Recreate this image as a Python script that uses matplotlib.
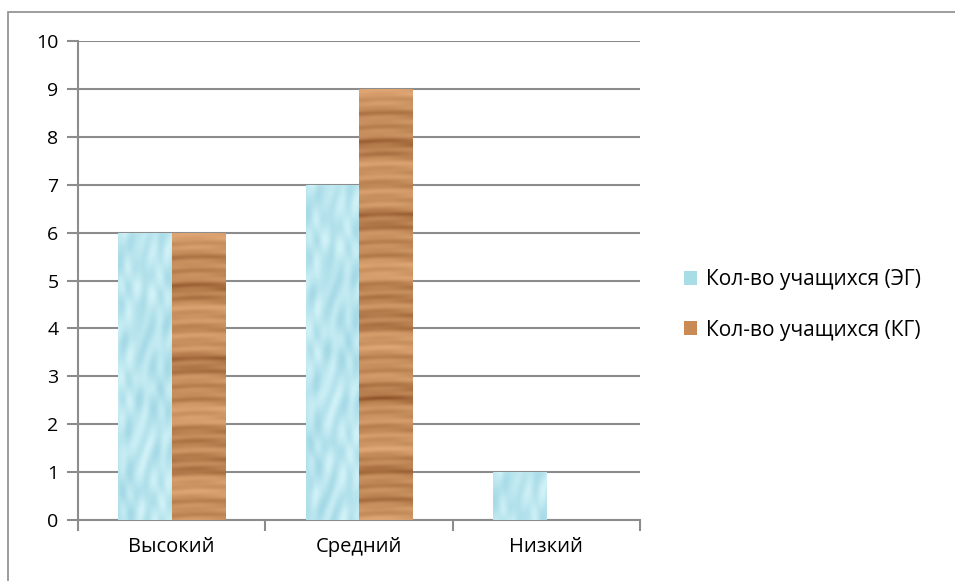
import matplotlib
matplotlib.use('Agg')

import numpy as np
import matplotlib.pyplot as plt
import matplotlib.patches as mpatches

categories = ['Высокий', 'Средний', 'Низкий']
eg_values = [6, 7, 1]
kg_values = [6, 9, 0]
series_labels = ['Кол-во учащихся (ЭГ)', 'Кол-во учащихся (КГ)']
y_ticks = list(range(0, 11))

plt.rcParams['font.family'] = ['Open Sans', 'DejaVu Sans']


def water_texture(h=200, w=60):
    # light blue with soft bubble shapes
    yy, xx = np.mgrid[0:h, 0:w].astype(float)
    f = (np.sin(xx / 4.3 + np.sin(yy / 7.0) * 1.7) * np.cos(yy / 5.1 + np.cos(xx / 6.0) * 1.3)
         + 0.5 * np.sin((xx + yy) / 3.1))
    f = (f - f.min()) / (f.max() - f.min())
    base = np.array([0.64, 0.85, 0.90])
    light = np.array([0.82, 0.95, 0.97])
    img = base[None, None, :] * (1 - f[..., None]) + light[None, None, :] * f[..., None]
    return img


def wood_texture(h=400, w=60):
    # light tan with thin, uneven dark grain lines
    yy, xx = np.mgrid[0:h, 0:w].astype(float)
    g = (np.sin(yy / 1.9 + np.sin(xx / 17.0) * 0.8) * 0.35
         + np.sin(yy / 4.7 + 0.6) * 0.3 + np.sin(yy / 11.3 + 1.0) * 0.35
         + np.sin(yy / 0.9 + xx / 29.0) * 0.12)
    g = (g - g.min()) / (g.max() - g.min())
    g = g ** 0.6
    dark = np.array([0.55, 0.32, 0.15])
    light = np.array([0.88, 0.66, 0.46])
    img = dark[None, None, :] * (1 - g[..., None]) + light[None, None, :] * g[..., None]
    return img


fig = plt.figure(figsize=(9.55, 5.81), dpi=100)
ax = fig.add_axes([78 / 955, 1 - 520 / 581, (640 - 78) / 955, (520 - 41) / 581])

# outer chart border (right and bottom edges fall outside the image)
fig.patches.append(mpatches.Rectangle((8 / 955, -0.1), 1.2, 1.1 - 12 / 581, transform=fig.transFigure,
                                      fill=False, edgecolor='#8c8c8c', linewidth=1.2))

x = np.arange(len(categories))
width = 0.285
textures = [water_texture(), wood_texture()]
series = [eg_values, kg_values]
colors = ['#a9dde6', '#c98a56']

for i, vals in enumerate(series):
    offs = (i - 0.5) * width
    bars = ax.bar(x + offs, vals, width, color='none', edgecolor='none', zorder=3)
    for b in bars:
        if b.get_height() <= 0:
            continue
        x0, y0 = b.get_x(), b.get_y()
        tex = textures[i][: max(20, int(textures[i].shape[0] * b.get_height() / 10))]
        im = ax.imshow(tex, extent=(x0, x0 + b.get_width(), y0, y0 + b.get_height()),
                       aspect='auto', zorder=3, interpolation='bilinear')
        im.set_clip_path(b)

ax.set_xlim(-0.5, len(categories) - 0.5)
ax.set_ylim(0, 10)
ax.set_yticks(y_ticks)
ax.set_xticks(x)
ax.set_xticklabels(categories)
ax.set_xticks(np.arange(len(categories) + 1) - 0.5, minor=True)

ax.grid(axis='y', color='#8c8c8c', linewidth=1.5, zorder=0)
ax.set_axisbelow(True)
for side in ['top', 'right']:
    ax.spines[side].set_visible(False)
for side in ['left', 'bottom']:
    ax.spines[side].set_color('#8c8c8c')
    ax.spines[side].set_linewidth(1.5)

ax.tick_params(axis='y', length=8, width=1.5, color='#8c8c8c', labelsize=14, pad=6)
ax.tick_params(axis='x', which='major', length=0, labelsize=14.5, pad=12)
ax.tick_params(axis='x', which='minor', length=8, width=1.5, color='#8c8c8c')

handles = [mpatches.Patch(facecolor=c, edgecolor='none', label=l) for c, l in zip(colors, series_labels)]
fig.legend(handles=handles, loc='center left', bbox_to_anchor=(665 / 955, 1 - 305 / 581),
           frameon=False, fontsize=15, handlelength=0.65, handleheight=0.65,
           handletextpad=0.4, labelspacing=1.4)

fig.savefig('out.png', dpi=100)
